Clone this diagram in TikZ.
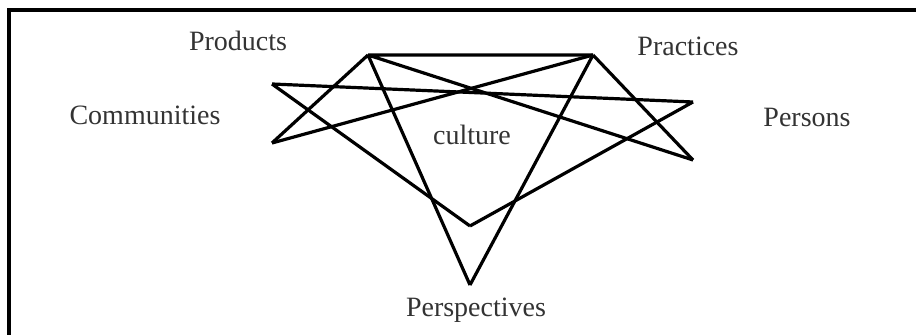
\documentclass[tikz,border=0pt]{standalone}
\usepackage{fontspec}
\setmainfont{Liberation Serif}

\begin{document}
\begin{tikzpicture}[
  x=0.5pt, y=-0.5pt,
  every node/.style={font=\fontsize{14}{16}\selectfont, text=black!80},
  edge/.style={line width=1.6pt, line join=miter},
  frame/.style={line width=1.6pt}
]
  \useasboundingbox (0,0) rectangle (916,335);

  % star corners
  \coordinate (tl) at (368, 55);
  \coordinate (tr) at (593, 55);
  \coordinate (lu) at (272, 84);
  \coordinate (ll) at (272,143);
  \coordinate (ru) at (693,102);
  \coordinate (rl) at (693,160);
  \coordinate (mid) at (470,226);
  \coordinate (bot) at (470,285);

  \draw[edge] (tl)--(tr) (tl)--(ll) (tl)--(rl) (tl)--(bot);
  \draw[edge] (tr)--(ll) (tr)--(rl) (tr)--(bot);
  \draw[edge] (lu)--(ru) (lu)--(mid) (ru)--(mid);

  \node (prod)  at (238, 41) {Products};
  \node (prac)  at (688, 46) {Practices};
  \node (comm)  at (145,115) {Communities};
  \node (pers)  at (807,117) {Persons};
  \node (cult)  at (472,135) {culture};
  \node (persp) at (476,310) {Perspectives};

  % frame, only top and left visible
  \draw[frame] (916,10) -- (9,10) -- (9,335);
\end{tikzpicture}
\end{document}
